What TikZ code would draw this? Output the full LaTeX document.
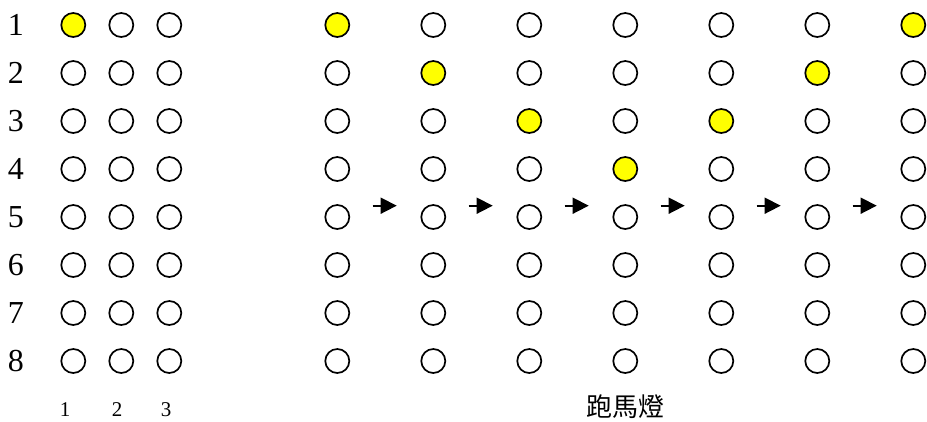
\documentclass[tikz,border=0pt]{standalone}
\usepackage{fontspec}
\setmainfont{Liberation Serif}
\newfontfamily\cjk{Noto Sans CJK TC}
\usetikzlibrary{arrows.meta}
\definecolor{lampyellow}{RGB}{255,255,0}
\tikzset{
  lamp/.style={circle, draw=black, line width=1.7pt, minimum size=24pt, inner sep=0pt, fill=white},
  lampon/.style={lamp, fill=lampyellow},
  rowlabel/.style={anchor=base, inner sep=0pt, font=\fontsize{32}{32}\selectfont},
  collabel/.style={anchor=base, inner sep=0pt, font=\fontsize{21}{21}\selectfont},
  stepArrow/.style={line width=1.7pt, -{Triangle[length=16pt,width=16pt]}}
}
\begin{document}
\begin{tikzpicture}[x=1pt,y=-1pt]
\useasboundingbox (0,0) rectangle (927,421);
% left grid
\foreach \r in {1,...,8}{
  \pgfmathsetmacro{\yy}{25+48*(\r-1)}
  \node[rowlabel] (rl\r) at (16,\yy+10.5) {\r};
  \foreach \c in {1,2,3}{
    \pgfmathsetmacro{\xx}{73.3+48*(\c-1)}
    \ifnum\r=1 \ifnum\c=1
      \node[lampon] (L\c-\r) at (\xx,\yy) {};
    \else
      \node[lamp] (L\c-\r) at (\xx,\yy) {};
    \fi\else
      \node[lamp] (L\c-\r) at (\xx,\yy) {};
    \fi
  }
}
\node[collabel] (cl1) at (65,416) {1};
\node[collabel] (cl2) at (117,416) {2};
\node[collabel] (cl3) at (166,416) {3};
% right grid
\foreach \c/\on in {1/1,2/2,3/3,4/4,5/3,6/2,7/1}{
  \pgfmathsetmacro{\xx}{337.3+96*(\c-1)}
  \foreach \r in {1,...,8}{
    \pgfmathsetmacro{\yy}{25+48*(\r-1)}
    \ifnum\r=\on
      \node[lampon] (R\c-\r) at (\xx,\yy) {};
    \else
      \node[lamp] (R\c-\r) at (\xx,\yy) {};
    \fi
  }
}
% arrows
\foreach \k in {1,...,6}{
  \pgfmathsetmacro{\xs}{372.7+96*(\k-1)}
  \coordinate (as\k) at (\xs,205.7);
  \coordinate (ae\k) at (\xs+24,205.7);
  \draw[stepArrow] (as\k) -- (ae\k);
}
\node[inner sep=0pt, font=\cjk\fontsize{26}{26}\selectfont] (title) at (625,407) {跑馬燈};
\end{tikzpicture}
\end{document}
